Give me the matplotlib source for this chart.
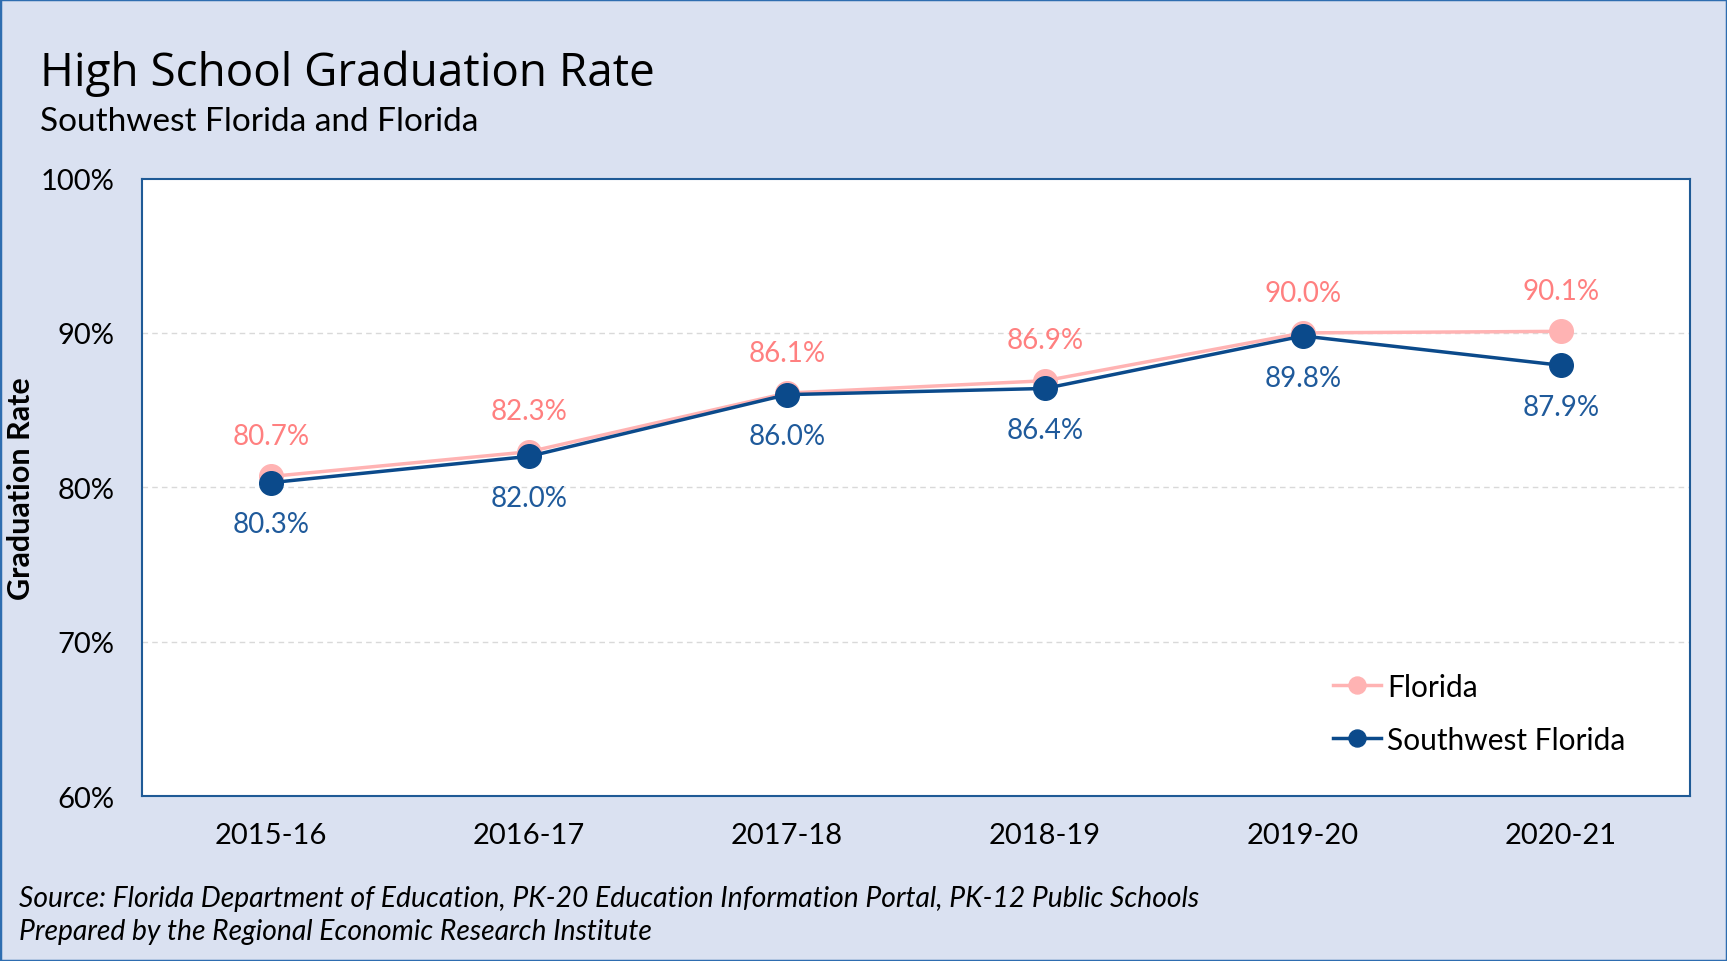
import numpy as np
import matplotlib.pyplot as plt
from matplotlib.patches import Rectangle

years = ['2015-16', '2016-17', '2017-18', '2018-19', '2019-20', '2020-21']
florida = [80.7, 82.3, 86.1, 86.9, 90.0, 90.1]
swfl = [80.3, 82.0, 86.0, 86.4, 89.8, 87.9]
yticks = [60, 70, 80, 90, 100]

bg = '#DAE1F1'
navy = '#0B4A8B'
pink = '#FFB3B3'
pink_txt = '#FF8080'
navy_txt = '#1F5A9B'

plt.rcParams['font.family'] = ['Lato', 'DejaVu Sans']

fig = plt.figure(figsize=(17.27, 9.62), dpi=100, facecolor=bg)
fig.patches.append(Rectangle((0, 0), 1, 1, transform=fig.transFigure, fill=False,
                             edgecolor='#2E6DB0', linewidth=2.5))

ax = fig.add_axes([0.0822, 0.1715, 0.8964, 0.6419])
ax.set_facecolor('white')
x = np.arange(len(years))

ax.plot(x, florida, color=pink, lw=2.5, marker='o', ms=17, label='Florida', zorder=3)
ax.plot(x, swfl, color=navy, lw=2.5, marker='o', ms=17, label='Southwest Florida', zorder=4)

# data labels: Florida above, Southwest Florida below
for i in range(len(years)):
    ax.annotate(f'{florida[i]:.1f}%', (x[i], florida[i]), xytext=(0, 29),
                textcoords='offset points', ha='center', va='center',
                color=pink_txt, fontsize=20)
    ax.annotate(f'{swfl[i]:.1f}%', (x[i], swfl[i]), xytext=(0, -30),
                textcoords='offset points', ha='center', va='center',
                color=navy_txt, fontsize=20)

ax.set_xlim(-0.5, len(years) - 0.5)
ax.set_ylim(60, 100)
ax.set_yticks(yticks)
ax.set_yticklabels([f'{v}%' for v in yticks], fontsize=21)
ax.set_xticks(x)
ax.set_xticklabels(years, fontsize=21)
ax.tick_params(axis='y', length=0, pad=20)
ax.tick_params(axis='x', length=0, pad=19)
for v in [70, 80, 90]:
    ax.axhline(v, color='#D9D9D9', lw=1, ls=(0, (4, 3)), zorder=1)
for s in ax.spines.values():
    s.set_color('#1F5A96')
    s.set_linewidth(1.5)

ax.set_ylabel('Graduation Rate', fontsize=22, fontweight='bold')
ax.yaxis.set_label_coords(-0.069, 0.5)

ax.legend(loc='lower right', bbox_to_anchor=(0.966, 0.049), borderaxespad=0, frameon=False,
          fontsize=21.5, handlelength=1.6, handletextpad=0.2, labelspacing=0.84, markerscale=0.72)

fig.text(0.023, 0.923, 'High School Graduation Rate', fontsize=33, va='center',
         family=['Open Sans', 'DejaVu Sans'])
fig.text(0.023, 0.873, 'Southwest Florida and Florida', fontsize=24, va='center')
fig.text(0.011, 0.065, 'Source: Florida Department of Education, PK-20 Education Information Portal, PK-12 Public Schools',
         fontsize=20.3, style='italic', va='center')
fig.text(0.011, 0.031, 'Prepared by the Regional Economic Research Institute',
         fontsize=20.3, style='italic', va='center')

fig.savefig('out.png', dpi=100, facecolor=bg)
